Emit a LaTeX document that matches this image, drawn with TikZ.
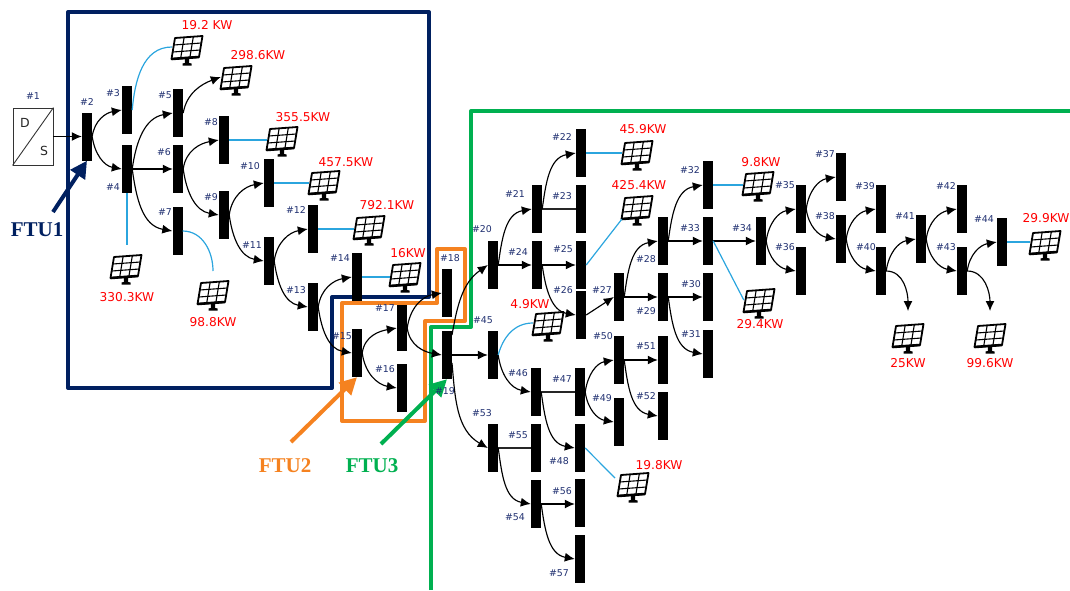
\documentclass[tikz,border=0pt]{standalone}
\usepackage{fontspec}
\setmainfont{DejaVu Sans}
\newfontfamily\ftufont{Liberation Serif}
\usetikzlibrary{calc,arrows.meta}
\definecolor{navyf}{HTML}{002060}
\definecolor{orangef}{HTML}{F58220}
\definecolor{greenf}{HTML}{00B050}
\definecolor{labn}{HTML}{1F2F70}
\definecolor{bluel}{HTML}{2BA5DE}
\tikzset{
  bus/.style={fill=black,draw=none,minimum width=10pt,minimum height=48pt,inner sep=0pt},
  lab/.style={text=labn,font=\fontsize{9.4}{10}\selectfont,inner sep=0pt},
  pow/.style={text=red,font=\fontsize{12.2}{14}\selectfont,inner sep=0pt},
  pvbox/.style={minimum width=30pt,minimum height=24pt,inner sep=0pt},
  arr/.style={-{Latex[length=10pt,width=9pt]},line width=1.15pt,black},
  plain/.style={line width=1.15pt,black!85},
  sun/.style={line width=1.2pt,bluel},
  upc/.style={out=82,in=190,looseness=1.05},
  dnc/.style={out=-82,in=170,looseness=1.05},
  frame/.style={line width=4pt,line join=round},
  ftuarrow/.style={line width=4pt,-{Triangle[length=17pt,width=17pt]}},
  ftutext/.style={font=\ftufont\bfseries\fontsize{21}{23}\selectfont,inner sep=0pt},
  pv/.pic={
    \coordinate (TL) at (-12,-9); \coordinate (TR) at (15.5,-11);
    \coordinate (BR) at (12,10); \coordinate (BL) at (-15.5,12);
    \draw[fill=white,line width=1.8pt,line join=round] (TL)--(TR)--(BR)--(BL)--cycle;
    \draw[line width=2.6pt] (BL)--(BR);
    \foreach \t in {0.333,0.667} {
      \draw[line width=1.1pt] ($(TL)!\t!(TR)$)--($(BL)!\t!(BR)$);
      \draw[line width=1.1pt] ($(TL)!\t!(BL)$)--($(TR)!\t!(BR)$);
    }
    \fill (-2.2,11)--(2.2,11)--(2.2,16)--(4.5,16.5)--(4.5,18.5)--(-4.5,18.5)--(-4.5,16.5)--(-2.2,16)--cycle;
  }
}
\newcommand{\PV}[3]{\node[pvbox] (#1) at (#2,#3) {}; \pic at (#2,#3) {pv};}
\begin{document}
\begin{tikzpicture}[x=1pt,y=-1pt]
\useasboundingbox (0,0) rectangle (1070,590);
% frames
\draw[frame,navyf] (68,12)--(429,12)--(429,297)--(332,297)--(332,388)--(68,388)--cycle;
\draw[frame,orangef] (342,303)--(437,303)--(437,249)--(465,249)--(465,321)--(425,321)--(425,421)--(342,421)--cycle;
\coordinate (g0) at (431,590); \coordinate (g1) at (431,327); \coordinate (g2) at (471,327);
\coordinate (g3) at (471,111); \coordinate (g4) at (1070,111);
\draw[frame,greenf] (g0)--(g1)--(g2)--(g3)--(g4);
% buses
\foreach \n/\x/\y in {2/87/136.5,3/127/110,4/127/169,5/178/113,6/178/169,7/177.5/231,8/224/140,9/224/215,10/269/183,11/269/261,12/313/229,13/313/307,14/357/277,15/357/353,16/402/388,18/447/293,19/447/355,20/493/265,21/537/209,22/581/153,23/581/209,24/537/265,25/581/265,26/581/315,27/619/297,28/663/241,29/663/297,30/708/297,31/708/354,32/708/185,33/708/241,34/761/241,35/801/209,36/801/271,37/841/177,38/841/239,39/881/209,40/881/271,41/921/239,42/962/209,43/962/271,44/1002/242,45/493/355,46/536/392,47/580/392,48/580/448,49/619/422,50/619/360,51/663/360,52/663/416,53/493/448,54/536/504,55/536/448,56/580/503,57/580/559}
  {\node[bus] (b\n) at (\x,\y) {};}
\node[bus,minimum height=46pt] (b17) at (402,328) {};
% DS box
\node[draw=black!80,line width=.9pt,minimum width=40pt,minimum height=57pt,inner sep=0pt] (ds) at (33,136.5) {};
\draw[black!80,line width=.9pt] (ds.south west)--(ds.north east);
\node[inner sep=0pt,font=\fontsize{12.5}{13}\selectfont,text=black!85] (dsD) at (25,123) {D};
\node[inner sep=0pt,font=\fontsize{12.5}{13}\selectfont,text=black!85] (dsS) at (44,151) {S};
% PV panels
\PV{pa}{187}{47}\PV{pb}{236}{77}\PV{pc}{282}{138}\PV{pd}{324}{182}\PV{pe}{369}{227}\PV{pf}{405}{274}
\PV{pg}{126}{266}\PV{ph}{213}{292}\PV{pi}{637}{152}\PV{pj}{637}{207}\PV{pk}{548}{323}\PV{pl}{758}{183}
\PV{pm}{759}{300}\PV{pn}{633}{484}\PV{po}{908}{335}\PV{pp}{990}{335}\PV{pq}{1045}{242}
% PV labels
\foreach \m/\t/\x/\y in {a/19.2 KW/207/25,b/298.6KW/258/55,c/355.5KW/303/117,d/457.5KW/346/162,e/792.1KW/387/205,f/16KW/408/253,g/330.3KW/127/297,h/98.8KW/213/322,i/45.9KW/643/129,j/425.4KW/639/185,k/4.9KW/530/304,l/9.8KW/761/162,m/29.4KW/760/324,n/19.8KW/659/465,o/25KW/908/363,p/99.6KW/990/363,q/29.9KW/1046/218}
  {\node[pow] (t\m) at (\x,\y) {\t};}
% straight arrows
\draw[arr] (ds.east)--(b2.west);
\foreach \a/\b in {4/6,20/24,24/25,27/29,28/33,29/30,33/34,19/45,50/51,54/56}
  {\draw[arr] (b\a.center) ++(5,0) -- (b\b.west |- b\a.center);}
\draw[arr] (b26.east)--(b27.west);
% plain lines
\foreach \a/\b in {21/23,46/47,53/55}
  {\draw[plain] (b\a.east)--(b\b.west);}
% curved up
\foreach \a/\b in {2/3,4/5,6/8,9/10,11/12,13/14,15/17,17/18,20/21,21/22,27/28,28/32,34/35,35/37,38/39,40/41,41/42,43/44,47/50}
  {\draw[arr] (b\a.east) to[upc] (b\b.west);}
% curved down
\foreach \a/\b in {2/4,4/7,6/9,9/11,11/13,13/15,15/16,17/19,24/26,29/31,34/36,35/38,38/40,41/43,45/46,46/48,47/49,50/52,53/54,54/57}
  {\draw[arr] (b\a.east) to[dnc] (b\b.west);}
\draw[arr] ($(b19.center)+(5,-20)$) to[out=80,in=215] (b20.west);
\draw[arr] ($(b19.center)+(5,8)$) to[out=-85,in=150] (b53.west);
\draw[arr] (b5.east) to[out=80,in=200] (pb.west);
\coordinate (e25) at (908,311); \coordinate (e99) at (990,311);
\draw[arr] (b40.east) to[out=0,in=90] (e25);
\draw[arr] (b43.east) to[out=0,in=90] (e99);
% sun lines
\draw[sun] (b3.east) to[out=85,in=180] (pa.west);
\coordinate (e330) at (127,245);
\draw[sun] (b4.south)--(e330);
\coordinate (e98) at (213,271);
\draw[sun] (b7.east) to[out=0,in=90] (e98);
\draw[sun] (b8.east)--(pc.west |- b8.east);
\draw[sun] (b10.east)--(pd.west |- b10.east);
\draw[sun] (b12.east)--(pe.west |- b12.east);
\draw[sun] (b14.east)--(pf.west |- b14.east);
\draw[sun] (b45.east) to[out=75,in=180] (pk.west);
\draw[sun] (b22.east)--(pi.west |- b22.east);
\draw[sun] (b25.east)--(pj.south west);
\draw[sun] (b32.east)--(pl.west |- b32.east);
\draw[sun] (b33.east)--(pm.west);
\draw[sun] (b44.east)--(pq.west |- b44.east);
\coordinate (e198) at (615,478);
\draw[sun] (b48.east)--(e198);
% FTU arrows
\coordinate (fa) at (53,212); \coordinate (fb) at (291,442); \coordinate (fc) at (381,444);
\draw[ftuarrow,navyf] (fa)--(b2.south);
\draw[ftuarrow,orangef] (fb)--(b15.south);
\draw[ftuarrow,greenf] (fc)--(b19.south);
\node[ftutext,text=navyf] (f1) at (37,230) {FTU1};
\node[ftutext,text=orangef] (f2) at (285,466) {FTU2};
\node[ftutext,text=greenf] (f3) at (372,466) {FTU3};
% bus labels
\foreach \n/\x/\y in {1/33/96,2/87/102,3/113/93,4/113/187,5/165/95,6/164/152,7/165/212,8/211/122,9/211/197,10/250/166,11/252/245,12/296/210,13/296/290,14/340/258,15/342/336,16/385/369,17/385/308,18/450/258,19/445/391,20/482/229,21/515/194,22/562/137,23/562/196,24/518/252,25/563/249,26/563/290,27/602/290,28/646/259,29/646/311,30/691/284,31/691/334,32/690/170,33/690/228,34/742/228,35/785/185,36/785/247,37/825/154,38/825/216,39/865/186,40/866/247,41/905/216,42/946/186,43/946/247,44/984/219,45/483/320,46/518/373,47/562/379,48/559/461,49/602/398,50/603/336,51/646/346,52/646/396,53/482/413,54/515/517,55/518/435,56/562/491,57/559/573}
  {\node[lab] (l\n) at (\x,\y) {\#\n};}
\end{tikzpicture}
\end{document}
